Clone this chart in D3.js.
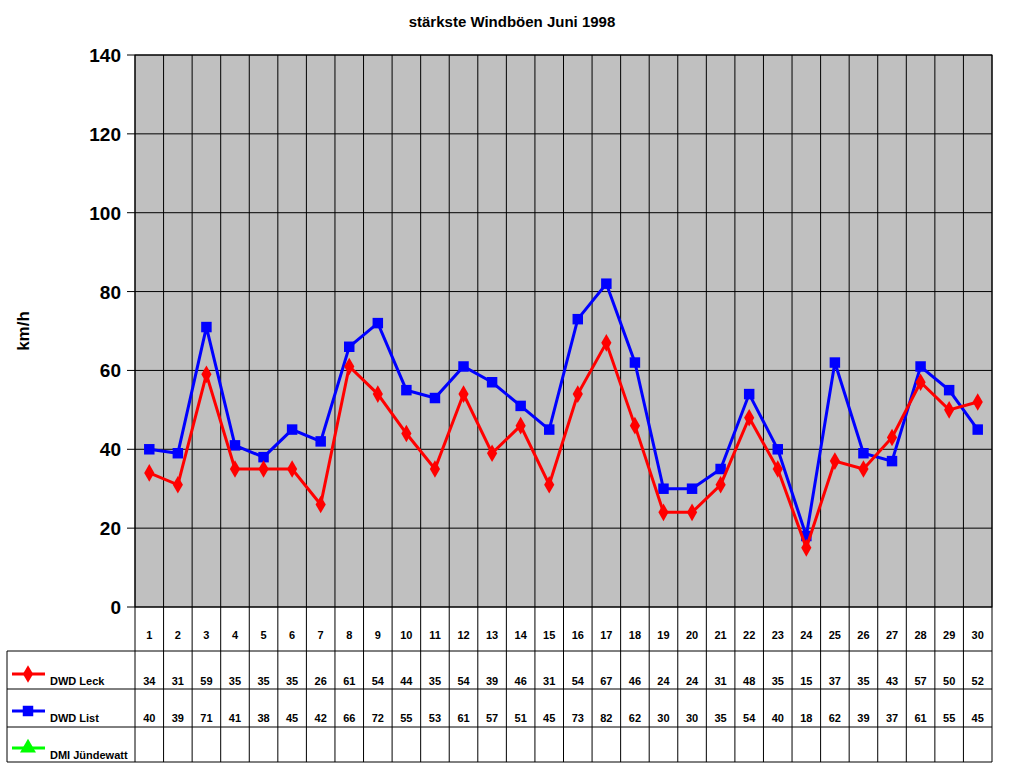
<!DOCTYPE html><html><head><meta charset="utf-8"><script src="https://cdn.jsdelivr.net/npm/d3@7"></script>
<style>body{margin:0;background:#fff}text{font-family:Arial,"Liberation Sans",sans-serif;font-weight:bold}</style></head><body>
<svg id="c" width="1024" height="768"></svg>
<script>
const days=d3.range(1,31).map(String);
const leck=[34,31,59,35,35,35,26,61,54,44,35,54,39,46,31,54,67,46,24,24,31,48,35,15,37,35,43,57,50,52];
const list=[40,39,71,41,38,45,42,66,72,55,53,61,57,51,45,73,82,62,30,30,35,54,40,18,62,39,37,61,55,45];
const yTicks=[0,20,40,60,80,100,120,140];
const svg=d3.select("#c");
const L=135,R=992,T=55,B=607;
const x=d3.scaleBand().domain(days).range([L,R]);
const y=d3.scaleLinear().domain([0,140]).range([B,T]);
svg.append("rect").attr("x",L).attr("y",T).attr("width",R-L).attr("height",B-T).attr("fill","#c0c0c0").attr("stroke","#000");
yTicks.forEach(t=>svg.append("line").attr("x1",L-8).attr("x2",R).attr("y1",y(t)).attr("y2",y(t)).attr("stroke","#000"));
days.forEach(d=>svg.append("line").attr("x1",x(d)).attr("x2",x(d)).attr("y1",T).attr("y2",762).attr("stroke","#000"));
svg.append("line").attr("x1",R).attr("x2",R).attr("y1",T).attr("y2",762).attr("stroke","#000");
yTicks.forEach(t=>svg.append("text").attr("x",L-14).attr("y",y(t)+7).attr("text-anchor","end").attr("font-size",19).text(t));
svg.append("text").attr("x",512).attr("y",27).attr("text-anchor","middle").attr("font-size",15).text("stärkste Windböen Juni 1998");
svg.append("text").attr("transform","translate(29,331) rotate(-90)").attr("text-anchor","middle").attr("font-size",17).text("km/h");
// table
[651,689,727,762].forEach(v=>svg.append("line").attr("x1",7).attr("x2",R).attr("y1",v).attr("y2",v).attr("stroke","#000"));
svg.append("line").attr("x1",7).attr("x2",7).attr("y1",651).attr("y2",762).attr("stroke","#000");
const cx=d=>x(d)+x.bandwidth()/2;
days.forEach((d,i)=>{
 svg.append("text").attr("x",cx(d)).attr("y",639).attr("text-anchor","middle").attr("font-size",11).text(d);
 svg.append("text").attr("x",cx(d)).attr("y",685).attr("text-anchor","middle").attr("font-size",11).text(leck[i]);
 svg.append("text").attr("x",cx(d)).attr("y",722).attr("text-anchor","middle").attr("font-size",11).text(list[i]);
});
const legs=[["DWD Leck","#ff0000","d",685],["DWD List","#0000ff","s",722],["DMI Jündewatt","#00ff00","t",759]];
legs.forEach(([n,c,s,yy])=>{
 const ly=yy-11;
 svg.append("line").attr("x1",12).attr("x2",45).attr("y1",ly).attr("y2",ly).attr("stroke",c).attr("stroke-width",3);
 const sym=s=="d"?d3.symbolDiamond:s=="s"?d3.symbolSquare:d3.symbolTriangle;
 svg.append("path").attr("d",d3.symbol(sym,s=="d"?90:110)()).attr("transform",`translate(28,${ly})`).attr("fill",c);
 svg.append("text").attr("x",50).attr("y",yy).attr("font-size",11).text(n);
});
const line=d3.line().x((v,i)=>cx(days[i])).y(v=>y(v));
[[list,"#0000ff",d3.symbolSquare,110],[leck,"#ff0000",d3.symbolDiamond,90]].forEach(([data,c,sym,sz])=>{
 svg.append("path").attr("d",line(data)).attr("fill","none").attr("stroke",c).attr("stroke-width",3);
 data.forEach((v,i)=>svg.append("path").attr("d",d3.symbol(sym,sz)()).attr("transform",`translate(${cx(days[i])},${y(v)})`).attr("fill",c));
});
</script></body></html>
